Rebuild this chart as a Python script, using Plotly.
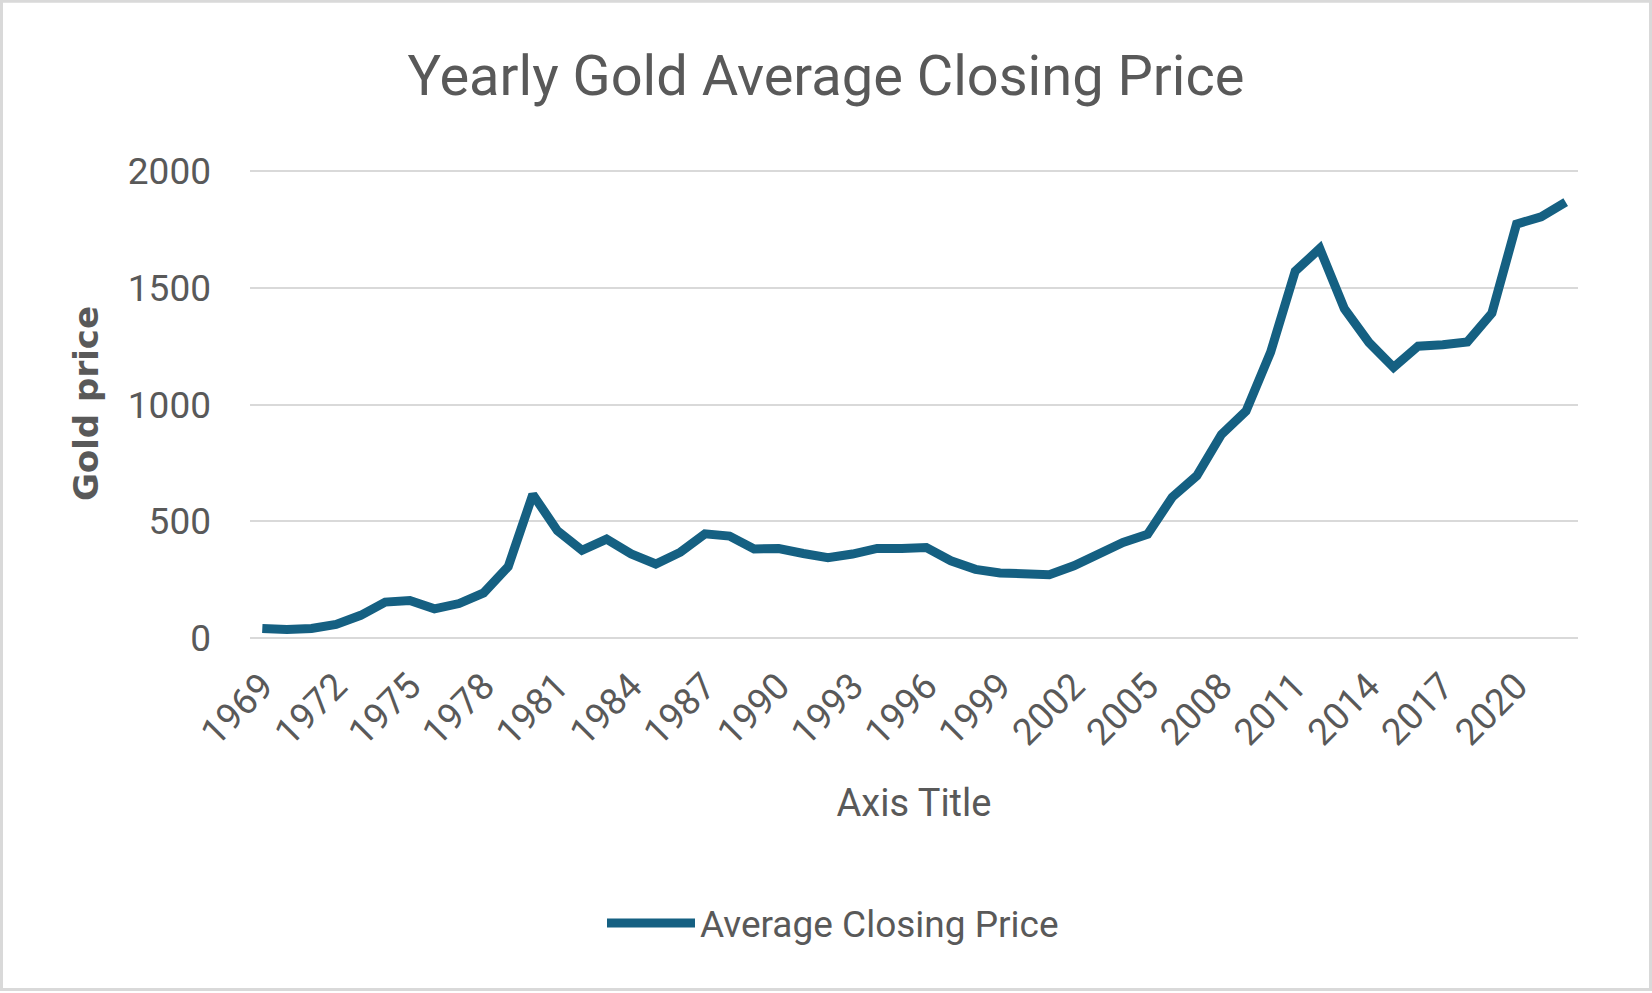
import plotly.graph_objects as go

years = list(range(1969, 2023))
avg_close = [41.10, 35.96, 40.80, 58.16, 97.12, 154.00, 160.86, 124.84, 147.71, 193.22,
             306.00, 615.00, 460.00, 375.67, 424.00, 360.66, 317.00, 367.66, 446.46, 436.94,
             381.44, 383.51, 362.11, 343.82, 359.77, 384.00, 383.79, 387.81, 331.02, 294.24,
             278.98, 279.11, 271.04, 309.73, 363.38, 409.72, 444.74, 603.46, 695.39, 871.96,
             972.35, 1224.53, 1571.52, 1668.98, 1411.23, 1266.40, 1160.06, 1250.74, 1257.12, 1268.49,
             1392.60, 1773.73, 1805.00, 1868.00]
tick_years = list(range(1969, 2021, 3))
y_ticks = [0, 500, 1000, 1500, 2000]

W, H = 1652, 993
Y_TOP = 2010
px_per_unit = (638.5 - 171.7) / 2000
L, R, B = 250, 74, H - 638.5
T = 638.5 - Y_TOP * px_per_unit
pw, ph = W - L - R, H - T - B

def px2paper_x(px):
    return (px - L) / pw

def py2paper_y(py):
    return (H - B - py) / ph

TEXT = "#595959"
LINE = "#156082"
GRID = "#d9d9d9"
FONT = "Roboto, Noto Sans, sans-serif"

fig = go.Figure()
fig.add_trace(go.Scatter(
    x=years, y=avg_close, mode="lines", name="Average Closing Price",
    line=dict(color=LINE, width=9, shape="linear"),
))

fig.update_layout(
    width=W, height=H,
    margin=dict(l=L, r=R, t=T, b=B, autoexpand=False),
    paper_bgcolor="white", plot_bgcolor="white",
    font=dict(family=FONT, color=TEXT),
    title=dict(text="Yearly Gold Average Closing Price", font=dict(size=56, color=TEXT, family=FONT),
               x=826 / W, xref="container", xanchor="center",
               y=1 - 75 / H, yref="container", yanchor="middle"),
    showlegend=True,
    legend=dict(orientation="h", x=px2paper_x(833), xanchor="center",
                y=py2paper_y(924), yanchor="middle",
                font=dict(size=37, color=TEXT, family=FONT),
                itemwidth=88, bgcolor="rgba(0,0,0,0)"),
    xaxis=dict(range=[1968.5, 2022.5], tickmode="array", tickvals=tick_years,
               ticktext=[str(v) for v in tick_years], tickangle=-45,
               tickfont=dict(size=37, color=TEXT, family=FONT),
               showgrid=False, showline=False, zeroline=False, ticks="",
               ticklabelstandoff=18,
               title=dict(text="Axis Title", font=dict(size=38, color=TEXT, family=FONT), standoff=36),
               automargin=False, fixedrange=True),
    yaxis=dict(range=[0, Y_TOP], tickmode="array", tickvals=y_ticks,
               tickfont=dict(size=37, color=TEXT, family=FONT),
               showgrid=True, gridcolor=GRID, gridwidth=2,
               zeroline=True, zerolinecolor=GRID, zerolinewidth=2,
               showline=False, ticks="", ticklabelstandoff=38,
               title=dict(text="<b>Gold price</b>", font=dict(size=34, color=TEXT, family="DejaVu Sans, sans-serif"),
                          standoff=18),
               automargin=False, fixedrange=True),
    shapes=[dict(type="rect", xref="paper", yref="paper",
                 x0=px2paper_x(1.5), x1=px2paper_x(1650.5),
                 y0=py2paper_y(990), y1=py2paper_y(1.5),
                 line=dict(color=GRID, width=3), fillcolor="rgba(0,0,0,0)", layer="below")],
)

fig.write_html("out.html", config={"displayModeBar": False},
               post_script="document.body.style.margin='0';document.body.style.overflow='hidden';")
